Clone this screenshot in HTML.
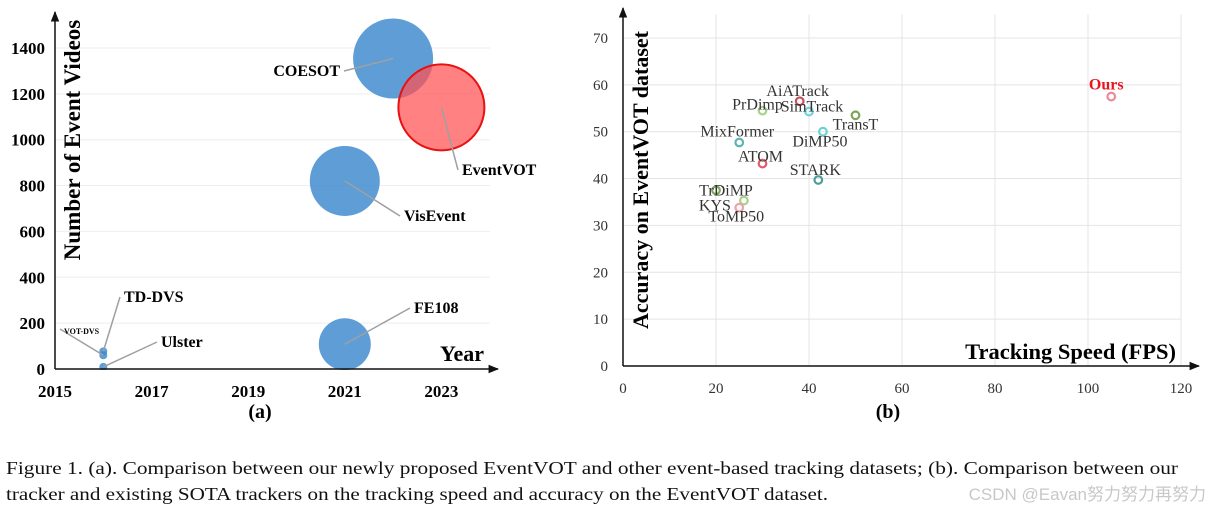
<!DOCTYPE html>
<html><head><meta charset="utf-8"><style>
body{margin:0;background:#fff;width:1212px;height:512px;overflow:hidden}
svg text{font-family:"Liberation Serif",serif}
</style></head><body>
<svg id="s" width="1212" height="512" xmlns="http://www.w3.org/2000/svg">
<defs><marker id="ar" viewBox="0 0 10 10" refX="9" refY="5" markerWidth="7" markerHeight="7" orient="auto"><path d="M0,1 L10,5 L0,9 z" fill="#111"/></marker></defs>
<g id="ga"></g>
<g id="gb"></g>
<text x="6" y="474" font-size="18" textLength="1172" lengthAdjust="spacingAndGlyphs" fill="#111">Figure 1. (a). Comparison between our newly proposed EventVOT and other event-based tracking datasets; (b). Comparison between our</text>
<text x="6" y="500" font-size="18" textLength="822" lengthAdjust="spacingAndGlyphs" fill="#111">tracker and existing SOTA trackers on the tracking speed and accuracy on the EventVOT dataset.</text>
<text x="1206" y="500" text-anchor="end" font-size="17" fill="#c8c8c8" style="font-family:'Liberation Sans','Noto Sans CJK SC',sans-serif">CSDN @Eavan努力努力再努力</text>
</svg>
<script>
const NS='http://www.w3.org/2000/svg';
function mk(p,t,a){const e=document.createElementNS(NS,t);for(const k in a)e.setAttribute(k,a[k]);p.appendChild(e);return e;}
// ---- chart a data ----
const aNames=['COESOT','EventVOT','VisEvent','FE108','TD-DVS','VOT-DVS','Ulster'];
const aYears=[2022,2023,2021,2021,2016,2016,2016];
const aVideos=[1354,1141,820,108,77,60,9];
const aSizes=[40,43,35,26,4,4,4];
const aYTicks=[0,200,400,600,800,1000,1200,1400];
const aXTicks=[2015,2017,2019,2021,2023];
const ax=v=>55+(v-2015)*48.3, ay=v=>369-v*0.2293;
const A=document.getElementById('ga');
aYTicks.forEach(t=>{if(t>0){const l=mk(A,'line',{x1:55,x2:490,y1:ay(t),y2:ay(t),stroke:'#eee','stroke-width':1});}});
const lab={COESOT:[340,76,'end'],EventVOT:[462,175,'start'],VisEvent:[404,221,'start'],FE108:[414,313,'start'],'TD-DVS':[124,302,'start'],'VOT-DVS':[64,334,'start'],Ulster:[161,347,'start']};
aNames.forEach((n,i)=>{const cx=ax(aYears[i]),cy=ay(aVideos[i]);
 const red=n==='EventVOT';
 const c=mk(A,'circle',{cx:cx,cy:cy,r:aSizes[i],fill:red?'rgba(255,80,80,0.72)':'rgba(60,135,205,0.82)',stroke:red?'#e81010':'none','stroke-width':2});
 
 const L=lab[n];
 mk(A,'line',{x1:cx,y1:cy,x2:L[0]+(L[2]==='end'?4:-4),y2:L[1]-5,stroke:'#a0a0a0','stroke-width':1.5});
 const t=mk(A,'text',{x:L[0],y:L[1],'text-anchor':L[2],'font-size':n==='VOT-DVS'?8:16,'font-weight':'bold'});t.textContent=n;
 });
mk(A,'rect',{x:52,y:370,width:450,height:30,fill:'#fff'});
aYTicks.forEach(t=>{const tx=mk(A,'text',{x:45,y:ay(t)+6,'text-anchor':'end','font-size':17,'font-weight':'bold'});tx.textContent=t;
 });
aXTicks.forEach(t=>{const tx=mk(A,'text',{x:ax(t),y:397,'text-anchor':'middle','font-size':17,'font-weight':'bold'});tx.textContent=t;
 });
mk(A,'line',{x1:55,y1:369,x2:55,y2:12,stroke:'#111','stroke-width':1.5,'marker-end':'url(#ar)'});
mk(A,'line',{x1:55,y1:369,x2:498,y2:369,stroke:'#111','stroke-width':1.5,'marker-end':'url(#ar)'});
let t=mk(A,'text',{x:484,y:361,'text-anchor':'end','font-size':22,'font-weight':'bold'});t.textContent='Year';

t=mk(A,'text',{x:0,y:0,'text-anchor':'middle','font-size':23,'font-weight':'bold',transform:'translate(80,140) rotate(-90)'});t.textContent='Number of Event Videos';

t=mk(A,'text',{x:260,y:418,'text-anchor':'middle','font-size':20,'font-weight':'bold'});t.textContent='(a)';

// ---- chart b data ----
const bNames=['AiATrack','PrDimp','SimTrack','TransT','MixFormer','DiMP50','ATOM','STARK','TrDiMP','KYS','ToMP50','Ours'];
const bFps=[38,30,40,50,25,43,30,42,20,26,25,105];
const bAcc=[56.5,54.5,54.3,53.5,47.7,50,43.2,39.7,37.5,35.3,33.8,57.5];
const bColors=['#c8505e','#a8d08d','#70d4dc','#7ba65a','#5fb3b3','#6fd0d4','#e05a6a','#4e9c9c','#7aaa5a','#a8d08d','#f2a0a8','#f08898'];
const bLab=[[-2,-5],[-5,-1],[3,0],[0,14],[-2,-6],[-3,15],[-2,-2],[-3,-5],[10,5],[-29,10],[-3,14],[-5,-7]];
const bXTicks=[0,20,40,60,80,100,120];
const bYTicks=[0,10,20,30,40,50,60,70];
const bx=v=>623+v*4.65, by=v=>366-v*4.686;
const B=document.getElementById('gb');
bXTicks.forEach(v=>{if(v>0)mk(B,'line',{x1:bx(v),x2:bx(v),y1:by(0),y2:by(75),stroke:'#e4e4e4','stroke-width':1});
 const tx=mk(B,'text',{x:bx(v),y:393,'text-anchor':'middle','font-size':15,fill:'#333'});tx.textContent=v;
 });
bYTicks.forEach(v=>{if(v>0)mk(B,'line',{x1:bx(0),x2:bx(120),y1:by(v),y2:by(v),stroke:'#e4e4e4','stroke-width':1});
 const tx=mk(B,'text',{x:608,y:by(v)+5,'text-anchor':'end','font-size':15,fill:'#333'});tx.textContent=v;
 });
mk(B,'line',{x1:623,y1:366,x2:623,y2:8,stroke:'#111','stroke-width':1.5,'marker-end':'url(#ar)'});
mk(B,'line',{x1:623,y1:366,x2:1199,y2:366,stroke:'#111','stroke-width':1.5,'marker-end':'url(#ar)'});
bNames.forEach((n,i)=>{const cx=bx(bFps[i]),cy=by(bAcc[i]);
 const c=mk(B,'circle',{cx:cx,cy:cy,r:3.8,fill:'none',stroke:bColors[i],'stroke-width':2.2});
 
 const o=n==='Ours';
 const tx=mk(B,'text',{x:cx+bLab[i][0],y:cy+bLab[i][1],'text-anchor':'middle','font-size':o?16:16,'font-weight':o?'bold':'normal',fill:o?'#e8141e':'#333'});tx.textContent=n;
 });
t=mk(B,'text',{x:1176,y:359,'text-anchor':'end','font-size':22.5,'font-weight':'bold'});t.textContent='Tracking Speed (FPS)';

t=mk(B,'text',{x:0,y:0,'text-anchor':'middle','font-size':22,'font-weight':'bold',transform:'translate(648,180) rotate(-90)'});t.textContent='Accuracy on EventVOT dataset';

t=mk(B,'text',{x:888,y:418,'text-anchor':'middle','font-size':20,'font-weight':'bold'});t.textContent='(b)';

</script>
</body></html>
